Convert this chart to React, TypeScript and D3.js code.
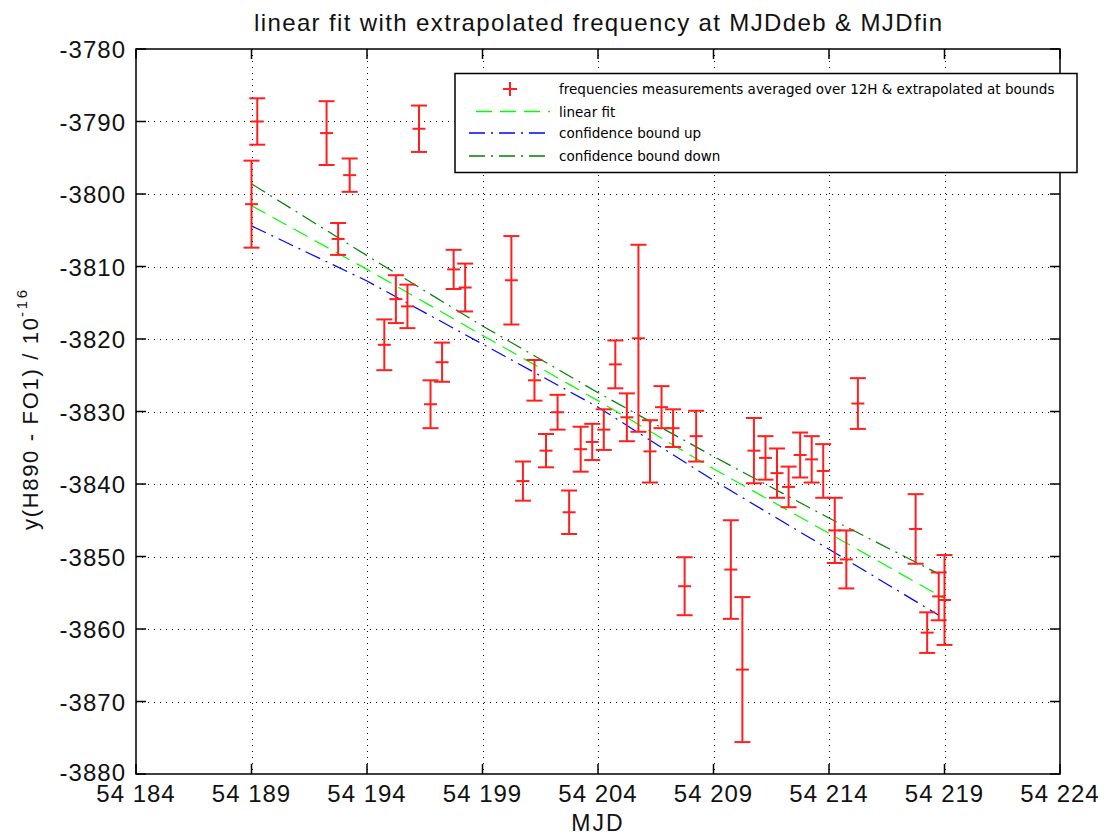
import React, { useRef, useEffect } from 'react';
import * as d3 from 'd3';

// measurements (MJD, value, half error bar)
const mjd = [
  54189.0, 54189.25, 54192.25, 54192.75, 54193.25, 54194.75, 54195.25, 54195.75, 54196.25, 54196.75,
  54197.25, 54197.75, 54198.25, 54200.25, 54200.75, 54201.25, 54201.75, 54202.25, 54202.75, 54203.25,
  54203.75, 54204.25, 54204.75, 54205.25, 54205.75, 54206.25, 54206.75, 54207.25, 54207.75, 54208.25,
  54209.75, 54210.25, 54210.75, 54211.25, 54211.75, 54212.25, 54212.75, 54213.25, 54213.75, 54214.25,
  54214.75, 54215.25, 54217.75, 54218.25, 54218.75, 54219.0,
];
const freq = [
  -3801.4, -3790.0, -3791.6, -3806.2, -3797.4, -3820.8, -3814.5, -3815.5, -3791.0, -3829.0,
  -3823.2, -3810.4, -3812.9, -3811.9, -3839.6, -3825.7, -3835.4, -3830.1, -3843.9, -3835.2,
  -3834.2, -3832.5, -3823.5, -3830.8, -3819.9, -3835.5, -3829.4, -3832.3, -3854.1, -3833.4,
  -3851.8, -3865.6, -3835.4, -3836.4, -3838.5, -3840.4, -3836.0, -3836.6, -3838.2, -3846.4,
  -3850.4, -3828.9, -3846.2, -3860.5, -3855.5, -3856.0,
];
const err = [
  6.0, 3.2, 4.4, 2.2, 2.3, 3.5, 3.3, 3.0, 3.2, 3.3,
  2.7, 2.7, 3.3, 6.1, 2.7, 2.8, 2.3, 2.4, 3.0, 3.1,
  2.5, 2.8, 3.3, 3.3, 12.9, 4.3, 2.9, 2.6, 4.0, 3.5,
  6.8, 10.0, 4.5, 3.0, 3.4, 2.8, 3.1, 3.2, 3.7, 4.5,
  4.0, 3.5, 4.8, 2.8, 3.3, 6.2,
];

// fit and confidence bounds
const fitMjd = [54189, 54194, 54199, 54204, 54209, 54214, 54219];
const fitValues = [-3801.6, -3810.4, -3819.5, -3828.5, -3837.9, -3846.8, -3855.8];
const boundMjd = [54189, 54194, 54199, 54204, 54209, 54214, 54218.75];
const boundUp = [-3804.4, -3812.0, -3820.7, -3829.4, -3839.5, -3849.0, -3858.1];
const boundDown = [-3798.6, -3808.5, -3818.2, -3827.4, -3836.2, -3844.7, -3852.4];

const xTicks = [54184, 54189, 54194, 54199, 54204, 54209, 54214, 54219, 54224];
const yTicks = [-3880, -3870, -3860, -3850, -3840, -3830, -3820, -3810, -3800, -3790, -3780];

const legendLabels = [
  'frequencies measurements averaged over 12H & extrapolated at bounds',
  'linear fit',
  'confidence bound up',
  'confidence bound down',
];

const App: React.FC = () => {
  const chartRef = useRef<SVGSVGElement | null>(null);

  useEffect(() => {
    if (!chartRef.current) return;
    const svg = d3.select(chartRef.current);
    svg.selectAll('*').remove();

    const left = 136, right = 1060, top = 49, bottom = 774;
    const x = d3.scaleLinear().domain([54184, 54224]).range([left, right]);
    const y = d3.scaleLinear().domain([-3880, -3780]).range([bottom, top]);
    const font = '"Liberation Sans", Arial, sans-serif';

    // grid
    const grid = svg.append('g').attr('stroke', '#000').attr('stroke-width', 1).attr('stroke-dasharray', '1,5');
    xTicks.slice(1, -1).forEach((t) => {
      const px = Math.round(x(t)) + 0.5;
      grid.append('line').attr('x1', px).attr('x2', px).attr('y1', top).attr('y2', bottom);
    });
    yTicks.slice(1, -1).forEach((t) => {
      const py = Math.round(y(t)) + 0.5;
      grid.append('line').attr('x1', left).attr('x2', right).attr('y1', py).attr('y2', py);
    });

    // fit lines
    const fitLine = d3.line<number>().x((d, i) => x(fitMjd[i])).y((d) => y(d));
    const boundLine = d3.line<number>().x((d, i) => x(boundMjd[i])).y((d) => y(d));
    svg.append('path').attr('d', fitLine(fitValues)).attr('fill', 'none')
      .attr('stroke', '#00ff00').attr('stroke-width', 1.2).attr('stroke-dasharray', '16,8');
    svg.append('path').attr('d', boundLine(boundUp)).attr('fill', 'none')
      .attr('stroke', '#0000ff').attr('stroke-width', 1.2).attr('stroke-dasharray', '16,6,2,6');
    svg.append('path').attr('d', boundLine(boundDown)).attr('fill', 'none')
      .attr('stroke', '#008000').attr('stroke-width', 1.2).attr('stroke-dasharray', '16,6,2,6');

    // error bars
    const capHalf = 8;
    const markHalf = 6.5;
    const bars = svg.append('g').attr('stroke', '#ff1f1f').attr('stroke-width', 2);
    mjd.forEach((m, i) => {
      const cx = x(m);
      const yt = y(freq[i] + err[i]);
      const yb = y(freq[i] - err[i]);
      const yc = y(freq[i]);
      bars.append('line').attr('x1', cx).attr('x2', cx).attr('y1', yt).attr('y2', yb);
      bars.append('line').attr('x1', cx - capHalf).attr('x2', cx + capHalf).attr('y1', yt).attr('y2', yt);
      bars.append('line').attr('x1', cx - capHalf).attr('x2', cx + capHalf).attr('y1', yb).attr('y2', yb);
      bars.append('line').attr('x1', cx - markHalf).attr('x2', cx + markHalf).attr('y1', yc).attr('y2', yc);
    });

    // frame and ticks
    const axes = svg.append('g').attr('stroke', '#000').attr('stroke-width', 1.5);
    axes.append('rect').attr('x', left).attr('y', top).attr('width', right - left).attr('height', bottom - top)
      .attr('fill', 'none');
    const tl = 10;
    xTicks.forEach((t) => {
      axes.append('line').attr('x1', x(t)).attr('x2', x(t)).attr('y1', bottom).attr('y2', bottom - tl);
      axes.append('line').attr('x1', x(t)).attr('x2', x(t)).attr('y1', top).attr('y2', top + tl);
    });
    yTicks.forEach((t) => {
      axes.append('line').attr('x1', left).attr('x2', left + tl).attr('y1', y(t)).attr('y2', y(t));
      axes.append('line').attr('x1', right).attr('x2', right - tl).attr('y1', y(t)).attr('y2', y(t));
    });

    const fmt = (v: number) => `${Math.floor(v / 1000)} ${String(v % 1000).padStart(3, '0')}`;
    svg.append('g').selectAll('text').data(xTicks).enter().append('text')
      .attr('x', (d) => x(d)).attr('y', 802).attr('text-anchor', 'middle')
      .attr('font-family', font).attr('font-size', 24).attr('letter-spacing', 1).attr('fill', '#111')
      .text((d) => fmt(d));
    svg.append('g').selectAll('text').data(yTicks).enter().append('text')
      .attr('x', 126).attr('y', (d) => Math.min(y(d) + 9, 781)).attr('text-anchor', 'end')
      .attr('font-family', font).attr('font-size', 24).attr('letter-spacing', 1).attr('fill', '#111')
      .text((d) => String(d));

    // titles
    svg.append('text').attr('x', 598).attr('y', 31).attr('text-anchor', 'middle')
      .attr('font-family', font).attr('font-size', 24).attr('textLength', 688)
      .attr('lengthAdjust', 'spacing').attr('fill', '#111')
      .text('linear fit with extrapolated frequency at MJDdeb & MJDfin');
    svg.append('text').attr('x', 598).attr('y', 831).attr('text-anchor', 'middle')
      .attr('font-family', font).attr('font-size', 23).attr('letter-spacing', 2).attr('fill', '#111')
      .text('MJD');
    svg.append('text').attr('transform', 'translate(38,530) rotate(-90)')
      .attr('font-family', font).attr('font-size', 22).attr('textLength', 212)
      .attr('lengthAdjust', 'spacing').attr('fill', '#111').text('y(H890 - FO1) / 10');
    svg.append('text').attr('transform', 'translate(27,317) rotate(-90)')
      .attr('font-family', font).attr('font-size', 15).attr('textLength', 27)
      .attr('lengthAdjust', 'spacing').attr('fill', '#111').text('-16');

    // legend
    const legend = svg.append('g');
    legend.append('rect').attr('x', 455).attr('y', 73.5).attr('width', 622).attr('height', 99)
      .attr('fill', '#fff').attr('stroke', '#000').attr('stroke-width', 1.5);
    const rowY = [89, 111.5, 133, 156];
    legend.append('line').attr('x1', 510 - 7).attr('x2', 510 + 7).attr('y1', rowY[0]).attr('y2', rowY[0])
      .attr('stroke', '#ff1f1f').attr('stroke-width', 2);
    legend.append('line').attr('x1', 510).attr('x2', 510).attr('y1', rowY[0] - 7).attr('y2', rowY[0] + 7)
      .attr('stroke', '#ff1f1f').attr('stroke-width', 2);
    const samples = [
      { color: '#00ff00', dash: '16,8', x1: 476 },
      { color: '#0000ff', dash: '16,6,2,6', x1: 469 },
      { color: '#008000', dash: '16,6,2,6', x1: 469 },
    ];
    samples.forEach((s, i) => {
      legend.append('line').attr('x1', s.x1).attr('x2', 550).attr('y1', rowY[i + 1]).attr('y2', rowY[i + 1])
        .attr('stroke', s.color).attr('stroke-width', 1.5).attr('stroke-dasharray', s.dash);
    });
    legend.selectAll('text.lbl').data(legendLabels).enter().append('text')
      .attr('x', 559).attr('y', (d, i) => rowY[i] + 5)
      .attr('font-family', '"DejaVu Sans", Verdana, sans-serif').attr('font-size', 13.5)
      .text((d) => d);
  }, []);

  return (
    <svg ref={chartRef} width={1105} height={837}
      style={{ position: 'absolute', left: 0, top: 0, background: '#fff' }}></svg>
  );
};

export default App;
